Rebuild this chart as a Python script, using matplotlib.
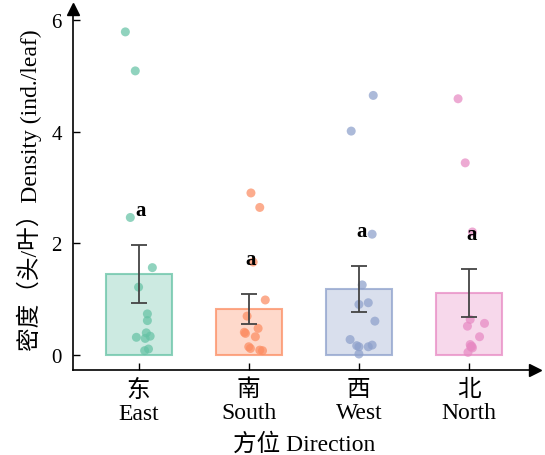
import numpy as np
import matplotlib
matplotlib.use('Agg')
import matplotlib.pyplot as plt

plt.rcParams['font.family'] = ['Liberation Serif', 'Noto Sans CJK SC']
plt.rcParams['axes.unicode_minus'] = False

# categories (Chinese + English)
groups_cn = ['东', '南', '西', '北']
groups_en = ['East', 'South', 'West', 'North']

# bar heights (mean) and standard errors
bar_means = [1.45, 0.82, 1.18, 1.11]
bar_se = [0.52, 0.27, 0.41, 0.43]
letters = ['a', 'a', 'a', 'a']

# individual observations per direction
east_vals = [5.79, 5.09, 2.46, 1.56, 1.21, 0.73, 0.61, 0.39, 0.33, 0.31, 0.29, 0.10, 0.07]
south_vals = [2.90, 2.64, 1.66, 0.98, 0.69, 0.47, 0.40, 0.38, 0.32, 0.14, 0.11, 0.08, 0.07]
west_vals = [4.65, 4.01, 2.16, 1.25, 0.93, 0.90, 0.60, 0.27, 0.17, 0.16, 0.14, 0.14, 0.01]
north_vals = [4.59, 3.44, 2.20, 0.63, 0.56, 0.51, 0.32, 0.18, 0.15, 0.14, 0.12, 0.04]

# horizontal jitter of each point as seen in the picture (category units)
east_jit = [-0.12, -0.03, -0.075, 0.125, 0.0, 0.08, 0.08, 0.07, 0.105, -0.02, 0.06, 0.09, 0.055]
south_jit = [0.02, 0.10, 0.04, 0.15, -0.015, 0.085, -0.04, -0.03, 0.06, 0.0, 0.015, 0.10, 0.125]
west_jit = [0.13, -0.07, 0.12, 0.03, 0.085, 0.0, 0.145, -0.08, 0.12, -0.02, 0.0, 0.085, 0.0]
north_jit = [-0.10, -0.035, 0.03, 0.01, 0.14, -0.015, 0.095, 0.01, 0.025, 0.015, 0.03, -0.01]

colors = ['#66c2a5', '#fc8d62', '#8da0cb', '#e78ac3']

fig = plt.figure(figsize=(5.45, 4.56), dpi=100)
ax = fig.add_axes([0.134, 0.186, 0.848, 0.792])

x = np.arange(len(groups_en))
all_vals = [east_vals, south_vals, west_vals, north_vals]
all_jit = [east_jit, south_jit, west_jit, north_jit]

for i in range(len(x)):
    ax.bar(x[i], bar_means[i], width=0.6, color=colors[i], alpha=0.33, zorder=1)
    ax.bar(x[i], bar_means[i], width=0.6, facecolor='none', edgecolor=colors[i],
           linewidth=1.5, alpha=0.75, zorder=2)
    ax.scatter(x[i] + np.array(all_jit[i]), all_vals[i], s=42, color=colors[i],
               alpha=0.72, edgecolors='none', zorder=3)
    ax.errorbar(x[i], bar_means[i], yerr=bar_se[i], fmt='none', ecolor='#444444',
                elinewidth=1.3, capsize=6, capthick=1.3, zorder=4)
    ax.text(x[i] + 0.02, bar_means[i] + bar_se[i] + 0.63, letters[i], ha='center',
            va='center', fontsize=15, fontweight='bold', zorder=5)

ax.set_xlim(-0.595, 3.6)
ax.set_ylim(-0.28, 6.2)
ax.set_yticks([0, 2, 4, 6])
ax.set_xticks(x)
ax.set_xticklabels([c + '\n' + e for c, e in zip(groups_cn, groups_en)], fontsize=17,
                   linespacing=1.15)
ax.tick_params(axis='y', labelsize=15, length=5, width=1, direction='in', pad=8)
ax.tick_params(axis='x', length=5, width=1, direction='in', pad=6)

ax.spines['top'].set_visible(False)
ax.spines['right'].set_visible(False)
ax.spines['left'].set_linewidth(1.2)
ax.spines['bottom'].set_linewidth(1.2)

# arrow heads on the axes
ax.plot(1, 0, '>k', markersize=8, transform=ax.transAxes, clip_on=False)
ax.plot(0, 1, '^k', markersize=8, transform=ax.transAxes, clip_on=False)

ax.set_ylabel('密度（头/叶）Density (ind./leaf)', fontsize=17, labelpad=7)
ax.set_xlabel('方位 Direction', fontsize=17, labelpad=6)

plt.savefig('out.png', dpi=100)
